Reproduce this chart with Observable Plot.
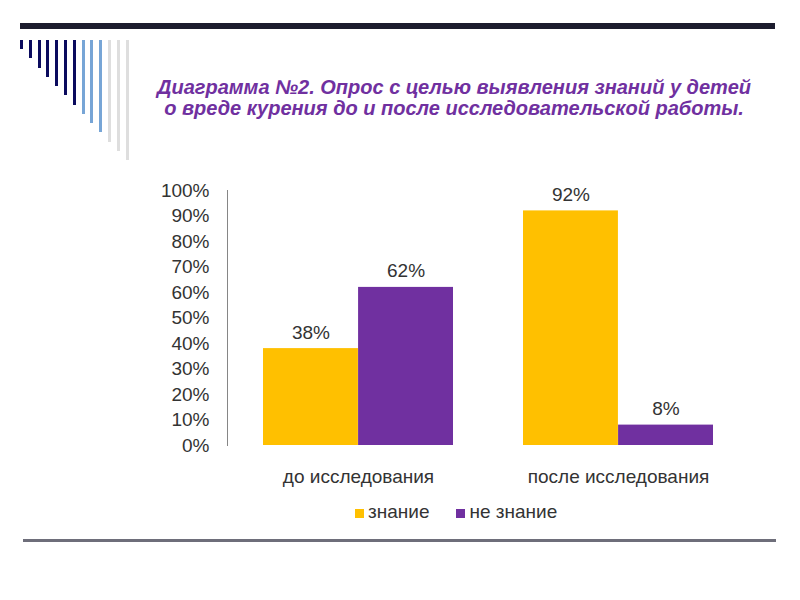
<!DOCTYPE html>
<html>
<head>
<meta charset="utf-8">
<script src="https://cdn.jsdelivr.net/npm/d3@7"></script>
<script src="https://cdn.jsdelivr.net/npm/@observablehq/plot@0.6"></script>
<style>
  html, body { margin: 0; padding: 0; background: #fff; }
  #slide { position: relative; width: 800px; height: 600px; overflow: hidden; background: #fff;
           font-family: "Liberation Sans", Arial, sans-serif; }
  #topline { position: absolute; left: 20px; top: 23px; width: 755px; height: 6px; background: #1d1d2e; }
  #bottomline { position: absolute; left: 23px; top: 539px; width: 753px; height: 3px; background: #6e6e7a; }
  .deco { position: absolute; top: 40px; width: 3px; }
  #title { position: absolute; left: 100px; width: 708px; top: 77px; text-align: center;
           color: #7030A0; font-weight: bold; font-style: italic; font-size: 20px; line-height: 21px; }
  #chart { position: absolute; left: 0; top: 0; }
  #legend { position: absolute; left: 355px; top: 501px; display: flex; align-items: center;
            font-size: 19px; color: #333; }
  #legend .item { display: flex; align-items: center; margin-right: 27px; }
  #legend .sw { width: 9px; height: 9px; margin-right: 4px; margin-top: 3px; }
</style>
</head>
<body>
<div id="slide">
  <div id="topline"></div>
  <div id="bottomline"></div>
  <div id="title">Диаграмма №2. Опрос с целью выявления знаний у детей<br>о вреде курения до и после исследовательской работы.</div>
  <div id="chart"></div>
  <div id="legend"></div>
</div>
<script>
// ---- data ----
const groups = ["до исследования", "после исследования"];
const series = ["знание", "не знание"];
const znanie = [0.38, 0.92];
const neZnanie = [0.62, 0.08];
const yTicks = [0, 0.1, 0.2, 0.3, 0.4, 0.5, 0.6, 0.7, 0.8, 0.9, 1.0];
const colors = ["#FFC000", "#7030A0"];

const values = [znanie, neZnanie];
const data = groups.flatMap((g, i) => series.map((s, j) => ({group: g, series: s, value: values[j][i]})));

// ---- decoration (slide template) ----
const slide = document.getElementById("slide");
for (let i = 0; i < 13; i++) {
  const d = document.createElement("div");
  d.className = "deco";
  d.style.left = (20 + 8.8 * i) + "px";
  d.style.height = (9 + 9.25 * i) + "px";
  d.style.background = i < 7 ? "#0b0b5e" : (i < 10 ? "#77a5d6" : "#dedede");
  slide.appendChild(d);
}

// ---- chart ----
const W = 800, H = 500, ml = 227, mr = 52, mt = 190, mb = 55;
const padIn = 0.27, padOut = 0.135;
const step = (W - ml - mr) / (groups.length - padIn + 2 * padOut);
const bw = step * (1 - padIn);

const marks = [];
series.forEach((s, j) => {
  const sub = data.filter(d => d.series === s);
  marks.push(Plot.barY(sub, {
    x: "group", y: "value", fill: "series",
    insetLeft: j === 0 ? 0 : bw / 2,
    insetRight: j === 0 ? bw / 2 : 0
  }));
  marks.push(Plot.text(sub, {
    x: "group", y: "value",
    text: d => Math.round(d.value * 100) + "%",
    dx: (j === 0 ? -1 : 1) * bw / 4, dy: -10,
    lineAnchor: "bottom", fill: "#333", fontSize: 19
  }));
});
marks.push(Plot.axisY({ticks: yTicks, tickFormat: d => Math.round(d * 100) + "%", tickSize: 0, tickPadding: 18, label: null, fontSize: 19}));
marks.push(Plot.axisX({tickSize: 0, tickPadding: 24, label: null, fontSize: 19}));
marks.push(Plot.frame({anchor: "left", stroke: "#868686"}));

const chart = Plot.plot({
  width: W, height: H,
  marginLeft: ml, marginRight: mr, marginTop: mt, marginBottom: mb,
  style: {fontFamily: "'Liberation Sans', Arial, sans-serif", fontSize: "19px", color: "#333", background: "transparent"},
  x: {domain: groups, paddingInner: padIn, paddingOuter: padOut},
  y: {domain: [0, 1]},
  color: {domain: series, range: colors},
  marks
});
document.getElementById("chart").appendChild(chart);

// ---- legend ----
const legend = document.getElementById("legend");
series.forEach((s, j) => {
  const it = document.createElement("div");
  it.className = "item";
  const sw = document.createElement("div");
  sw.className = "sw";
  sw.style.background = colors[j];
  const t = document.createElement("span");
  t.textContent = s;
  it.appendChild(sw); it.appendChild(t);
  legend.appendChild(it);
});
</script>
</body>
</html>
